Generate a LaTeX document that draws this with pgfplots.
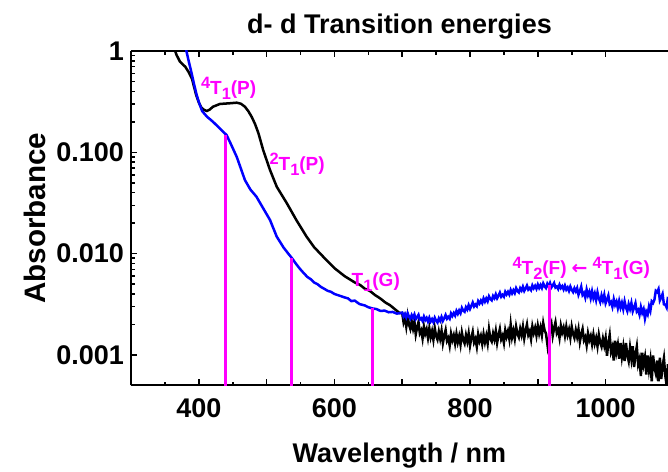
\documentclass[border=0pt]{standalone}
\usepackage{fontspec}
\setmainfont{Liberation Sans}
\newfontfamily\dejavu{DejaVu Sans}
\usepackage{pgfplots}
\pgfplotsset{compat=1.18}
\definecolor{mag}{RGB}{255,0,255}
\newcommand{\lbl}{\fontsize{9.5}{10}\selectfont\bfseries}
\newcommand{\up}[1]{\raisebox{0.6ex}{\fontsize{8.2}{8}\selectfont #1}}
\newcommand{\dn}[1]{\raisebox{-0.5ex}{\fontsize{8.2}{8}\selectfont #1}}
\newcommand{\bigf}{\fontsize{13.5}{14}\selectfont\bfseries}
\newcommand{\ylf}{\fontsize{14.8}{15}\selectfont\bfseries}
\begin{document}
\begin{tikzpicture}
\begin{axis}[name=ax, scale only axis, width=268.5pt, height=167.25pt,
  xmin=300, xmax=1092, ymode=log, ymin=0.0005, ymax=1,
  axis y line*=left, axis x line*=box,
  xtick={300,400,...,1000}, xticklabels={,400,,600,,800,,1000}, minor x tick num=1,
  ytick={0.001,0.01,0.1,1}, yticklabels={0.001,0.010,0.100,1},
  tick align=inside, major tick length=3pt, minor tick length=1.8pt,
  every tick/.style={black, line width=0.8pt},
  axis line style={line width=1pt},
  tick label style={font=\bigf},
  xticklabel style={anchor=base, yshift=-16.25pt},
  every axis title shift=0pt,
  title={d- d Transition energies},
  title style={font=\bigf, at={(axis description cs:0.5,1.053)}, anchor=base},
  xlabel={Wavelength / nm}, ylabel={Absorbance},
  xlabel style={font=\bigf, at={(axis description cs:0.5,-0.2317)}, anchor=base},
  ylabel style={font=\ylf, at={(axis description cs:-0.160,0.5)}, anchor=base},
  clip=true]
\addplot[black, line width=1.25pt] table {
364 1.05
367 0.92
372 0.79
376 0.74
380 0.70
385 0.62
390 0.53
396 0.37
400 0.31
404 0.275
408 0.262
412 0.256
416 0.264
421 0.282
431 0.300
446 0.305
456 0.309
462 0.302
468 0.282
473 0.255
478 0.224
483 0.19
488 0.154
495 0.105
505 0.067
515 0.0457
530 0.0313
544 0.0214
559 0.0147
570 0.0116
585 0.0091
600 0.0072
615 0.0060
630 0.0052
638 0.0049
645 0.0045
652 0.0043
660 0.0039
668 0.0036
675 0.0033
682 0.0031
690 0.0028
696 0.0026
700 0.00259
702 0.00211
704 0.00235
706 0.00191
708 0.00242
710 0.0020
712 0.00181
714 0.00214
716 0.00182
718 0.00213
720 0.0016
722 0.00187
724 0.00211
726 0.00164
728 0.00175
730 0.00146
732 0.0019
734 0.00162
736 0.00179
738 0.00148
740 0.00183
742 0.0015
744 0.00171
746 0.00142
748 0.00184
750 0.00154
752 0.00142
754 0.0017
756 0.00145
758 0.00173
760 0.00131
762 0.00155
764 0.00176
766 0.00138
768 0.00147
770 0.00124
772 0.00162
774 0.0014
776 0.00156
778 0.0013
780 0.00161
782 0.00134
784 0.00153
786 0.00127
788 0.00166
790 0.00141
792 0.0013
794 0.00157
796 0.00136
798 0.00163
800 0.00124
802 0.00148
804 0.00169
806 0.00133
808 0.00144
810 0.00121
812 0.0016
814 0.00138
816 0.00154
818 0.00129
820 0.0016
822 0.00134
824 0.00155
826 0.0013
828 0.00179
830 0.00145
832 0.00136
834 0.00163
836 0.00143
838 0.00172
840 0.00132
842 0.00157
844 0.0018
846 0.00143
848 0.00155
850 0.00132
852 0.00175
854 0.00152
856 0.00171
858 0.00144
860 0.00199
862 0.0015
864 0.00173
866 0.00145
868 0.0019
870 0.00162
872 0.0015
874 0.00181
876 0.00158
878 0.0019
880 0.00146
882 0.00174
884 0.0020
886 0.00158
888 0.00171
890 0.00144
892 0.00191
894 0.00165
896 0.00185
898 0.00156
900 0.00194
902 0.00163
904 0.00187
906 0.00157
908 0.00206
910 0.00175
912 0.00163
914 0.0013
916 0.00102
918 0.00186
920 0.00205
922 0.00155
924 0.00184
926 0.0021
928 0.00165
930 0.00177
932 0.00148
934 0.00194
936 0.00167
938 0.00186
940 0.00155
942 0.0019
944 0.00158
946 0.00178
948 0.00148
950 0.0019
952 0.00161
954 0.00147
956 0.00176
958 0.00151
960 0.00179
962 0.00135
964 0.0016
966 0.0018
968 0.0014
970 0.0015
972 0.00125
974 0.00163
976 0.0014
978 0.00154
980 0.00128
982 0.00158
984 0.0013
986 0.00147
988 0.00122
990 0.00158
992 0.00133
994 0.00121
996 0.00145
998 0.00124
1000 0.00147
1002 0.00098
1004 0.00131
1006 0.00157
1008 0.00108
1010 0.0012
1012 0.00088
1014 0.00138
1016 0.00107
1018 0.00126
1020 0.00092
1022 0.00131
1024 0.00096
1026 0.00119
1028 0.00087
1030 0.00131
1032 0.0010
1034 0.00087
1036 0.00118
1038 0.00092
1040 0.00122
1042 0.00076
1044 0.00101
1046 0.00121
1048 0.00081
1050 0.00091
1052 0.00062
1054 0.00105
1056 0.00081
1058 0.00095
1060 0.00064
1062 0.00099
1064 0.00072
1066 0.00089
1068 0.00055
1070 0.00099
1072 0.00075
1074 0.00066
1076 0.00088
1078 0.00055
1080 0.00094
1082 0.00058
1084 0.00077
1086 0.00093
1088 0.00063
1090 0.0005
1092 0.00081
};
\addplot[blue, line width=1.25pt] table {
381 1.05
385 0.80
389.5 0.60
393 0.47
397 0.365
401 0.30
405 0.255
412 0.225
421 0.20
431 0.172
441 0.148
448 0.118
456 0.09
468 0.0533
476 0.043
485 0.0365
495 0.028
505 0.0215
515 0.0147
525 0.0115
532 0.0100
537 0.0091
543 0.0080
549 0.0071
555 0.0064
560 0.0059
565 0.0056
570 0.0052
575 0.0050
580 0.0047
585 0.0045
590 0.0043
595 0.0042
600 0.0040
605 0.0039
610 0.0038
615 0.0037
620 0.00362
625 0.0034
630 0.00344
637 0.00318
645 0.00308
650 0.00296
656 0.00288
662 0.00284
668 0.00272
674 0.00274
680 0.00264
686 0.00266
692 0.00256
696 0.00258
700 0.00262
702 0.0024
704 0.00254
706 0.00235
708 0.00258
710 0.00239
712 0.00228
714 0.00248
716 0.00233
718 0.00251
720 0.00226
722 0.00236
724 0.00249
726 0.00224
728 0.0023
730 0.00217
732 0.00239
734 0.00221
736 0.00232
738 0.00214
740 0.00233
742 0.00214
744 0.00226
746 0.00211
748 0.00233
750 0.00218
752 0.00209
754 0.0023
756 0.00217
758 0.00237
760 0.00217
762 0.00231
764 0.00248
766 0.00228
768 0.00238
770 0.00228
772 0.00257
774 0.00243
776 0.00259
778 0.00245
780 0.00272
782 0.00255
784 0.00275
786 0.00259
788 0.00291
790 0.00274
792 0.00267
794 0.00296
796 0.00281
798 0.0031
800 0.00285
802 0.00305
804 0.00329
806 0.00301
808 0.00315
810 0.00303
812 0.0034
814 0.00322
816 0.00344
818 0.00325
820 0.00361
822 0.00336
824 0.00361
826 0.00339
828 0.00379
830 0.00357
832 0.00346
834 0.00382
836 0.00364
838 0.00397
840 0.00363
842 0.00385
844 0.00412
846 0.00376
848 0.00392
850 0.00376
852 0.0042
854 0.00396
856 0.0042
858 0.00395
860 0.00437
862 0.00406
864 0.00435
866 0.00409
868 0.00456
870 0.00428
872 0.00414
874 0.00456
876 0.00433
878 0.00471
880 0.00429
882 0.00454
884 0.00484
886 0.00442
888 0.00457
890 0.00437
892 0.00486
894 0.00456
896 0.00481
898 0.0045
900 0.00495
902 0.00459
904 0.0049
906 0.00458
908 0.00508
910 0.00476
912 0.00458
914 0.00504
916 0.00475
918 0.00513
920 0.00464
922 0.00486
924 0.00513
926 0.00463
928 0.00474
930 0.00448
932 0.00493
934 0.00458
936 0.00478
938 0.00444
940 0.00483
942 0.00442
944 0.00464
946 0.00429
948 0.00473
950 0.00439
952 0.00418
954 0.00455
956 0.00425
958 0.00457
960 0.00393
962 0.00428
964 0.00472
966 0.00392
968 0.0041
970 0.00369
972 0.00441
974 0.00388
976 0.0042
978 0.00364
980 0.00424
982 0.00365
984 0.00404
986 0.00349
988 0.00414
990 0.00362
992 0.00333
994 0.00387
996 0.00346
998 0.00392
1000 0.00324
1002 0.00352
1004 0.00386
1006 0.0032
1008 0.00333
1010 0.00299
1012 0.00355
1014 0.00312
1016 0.00336
1018 0.00291
1020 0.0034
1022 0.00294
1024 0.00327
1026 0.00284
1028 0.00338
1030 0.00295
1032 0.00271
1034 0.00317
1036 0.00285
1038 0.00325
1040 0.0027
1042 0.00294
1044 0.00324
1046 0.00268
1048 0.00279
1050 0.0025
1052 0.00297
1054 0.00261
1056 0.00283
1058 0.00229
1060 0.00268
1062 0.00251
1064 0.00302
1066 0.00273
1068 0.00338
1070 0.00326
1072 0.00352
1074 0.0043
1076 0.00418
1078 0.00447
1080 0.00346
1082 0.0037
1084 0.0040
1086 0.00316
1088 0.00314
1090 0.00294
1092 0.00375
};
\addplot[mag, line width=1.5pt] coordinates {(440,0.0004) (440,0.148)};
\addplot[mag, line width=1.5pt] coordinates {(537,0.0004) (537,0.0091)};
\addplot[mag, line width=1.5pt] coordinates {(656,0.0004) (656,0.00288)};
\addplot[mag, line width=1.5pt] coordinates {(917,0.0004) (917,0.0049)};
\node[mag, font=\lbl, anchor=center] at (axis cs:444,0.426) {\up{4}T\dn{1}(P)};
\node[mag, font=\lbl, anchor=center] at (axis cs:545,0.0767) {\up{2}T\dn{1}(P)};
\node[mag, font=\lbl, anchor=center] at (axis cs:661,0.00525) {T\dn{1}(G)};
\node[mag, font=\lbl, anchor=center] at (axis cs:964,0.0072) {\up{4}T\dn{2}(F)\kern2.5pt{\dejavu\bfseries ←}\kern2.5pt\up{4}T\dn{1}(G)};
\end{axis}
\path (ax.south west) ++(-65.5pt,-43.25pt) coordinate (bbA);
\path (ax.north east) ++(0pt,25.5pt) coordinate (bbB);
\pgfresetboundingbox
\path (bbA) rectangle (bbB);
\end{tikzpicture}
\end{document}
